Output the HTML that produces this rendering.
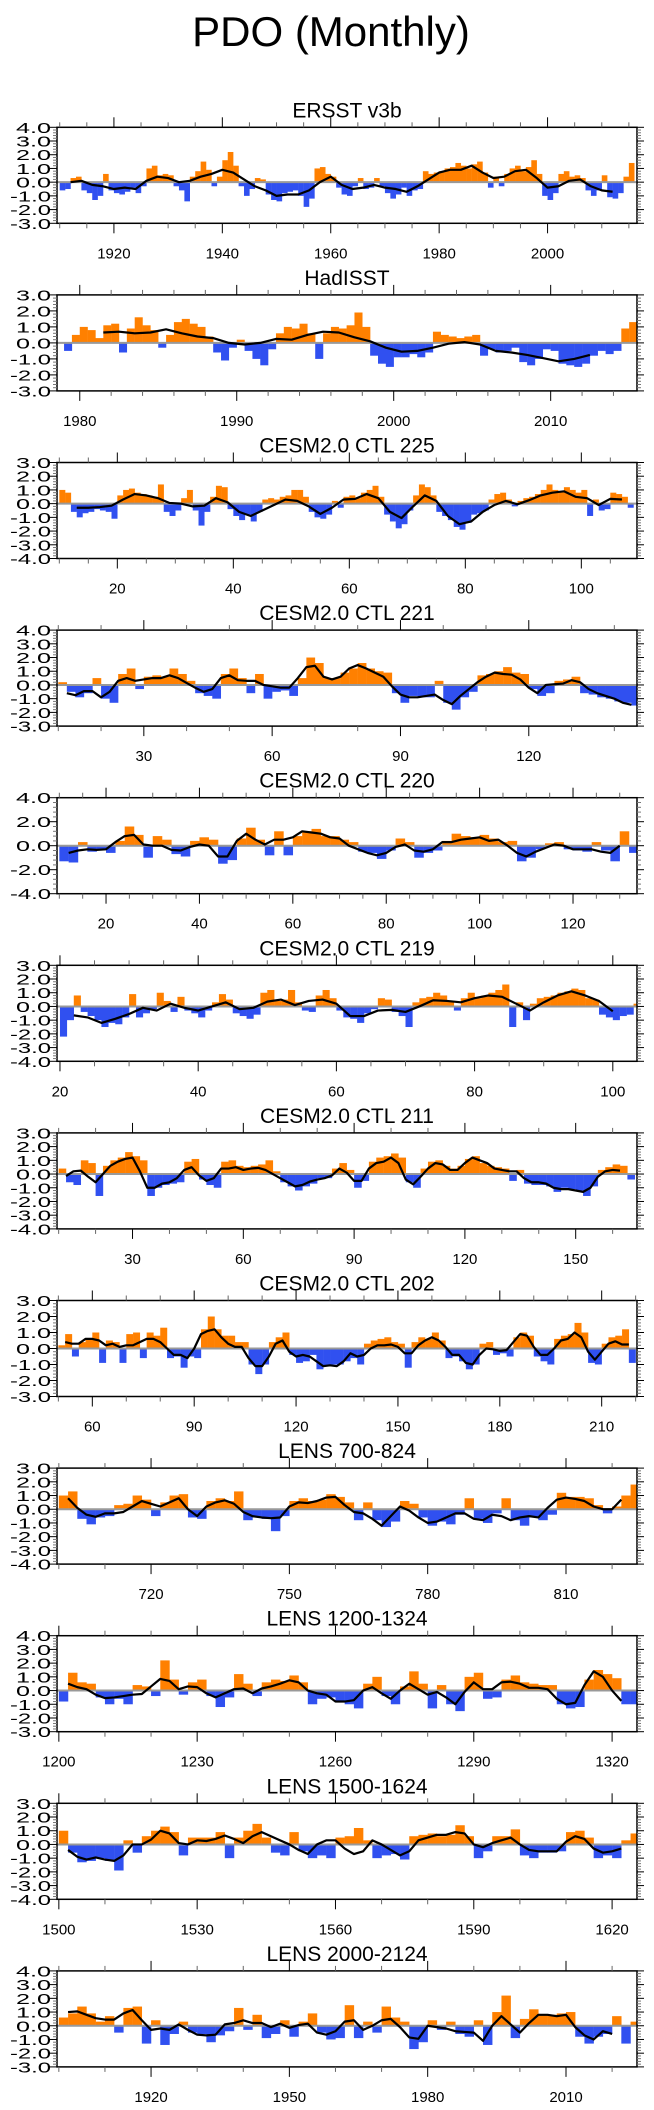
<!DOCTYPE html>
<html>
<head>
<meta charset="utf-8">
<style>
  html,body{margin:0;padding:0;background:#fff;}
  svg{display:block;}
  text{font-family:"Liberation Sans",Arial,sans-serif;fill:#000;}
</style>
</head>
<body>
<svg id="chart" xmlns="http://www.w3.org/2000/svg" width="654" height="2110" viewBox="0 0 654 2110">
  <rect x="0" y="0" width="654" height="2110" fill="#fff"/>
  <text x="331" y="46" font-size="42" text-anchor="middle">PDO (Monthly)</text>
</svg>
<script>
// ---------- data ----------
const ersstBars=[-0.6,-0.5,0.3,0.4,-0.6,-0.8,-1.3,-1.0,0.6,-0.6,-0.8,-0.9,-0.7,-0.4,-0.8,-0.3,1.0,1.2,0.5,0.6,0.5,-0.3,-0.6,-1.4,0.4,0.8,1.5,0.9,-0.3,0.4,1.6,2.2,1.2,-0.3,-1.0,-0.5,0.3,0.2,-0.9,-1.3,-1.4,-0.8,-0.7,-0.6,-1.0,-1.8,-1.2,1.0,1.1,0.6,0.4,-0.4,-0.9,-1.0,-0.3,0.3,-0.5,-0.4,0.3,-0.3,-0.8,-1.2,-0.9,-0.4,-1.0,-0.6,-0.5,0.8,0.6,0.7,0.8,1.0,1.1,1.4,1.2,1.0,1.3,1.5,0.7,-0.4,0.4,-0.3,0.6,1.0,1.2,0.8,1.1,1.6,0.6,-1.0,-1.3,-0.8,0.6,0.8,0.4,0.5,0.3,-0.6,-1.0,-0.6,0.5,-1.1,-1.2,-0.8,0.4,1.4];
const ersstSmooth=[0.0,0.1,-0.2,-0.3,-0.5,-0.4,-0.5,0.1,0.4,0.3,0.0,0.1,0.4,0.6,0.9,0.7,0.2,-0.3,-0.6,-1.0,-0.9,-0.9,-0.6,0.0,0.4,-0.2,-0.5,-0.4,-0.2,-0.4,-0.5,-0.7,-0.3,0.2,0.7,0.9,0.9,1.2,0.7,0.3,0.4,0.8,0.9,0.3,-0.4,-0.3,0.1,0.2,-0.3,-0.6,-0.7];
const hadBars=[-0.5,0.5,1.0,0.8,0.3,1.1,1.2,-0.6,0.9,1.6,1.1,0.8,-0.3,0.5,1.3,1.5,1.2,1.0,0.4,-0.6,-1.1,-0.3,0.2,-0.5,-1.0,-1.4,-0.4,0.6,1.0,0.9,1.2,0.6,-1.0,0.6,1.0,0.9,1.1,1.9,1.0,-0.8,-1.3,-1.5,-0.9,-0.9,-0.7,-0.9,-0.6,0.7,0.5,0.4,0.3,0.4,0.5,-0.8,-0.4,-0.6,-0.5,-0.3,-1.2,-1.4,-1.0,-0.4,-0.5,-1.3,-1.4,-1.5,-1.3,-0.8,-0.5,-0.7,-0.5,0.9,1.3];
const hadSmooth=[0.65,0.7,0.6,0.65,0.85,0.6,0.4,0.3,0.0,-0.1,0.0,0.25,0.2,0.5,0.7,0.65,0.35,0.1,-0.3,-0.55,-0.5,-0.3,-0.05,0.05,-0.1,-0.5,-0.6,-0.75,-0.95,-1.15,-1.0,-0.75];
const c225Bars=[1.0,0.8,-0.6,-1.0,-0.7,-0.6,-0.4,-0.5,-0.6,-1.1,0.6,1.0,1.1,0.8,0.7,0.6,0.5,1.4,-0.6,-0.9,-0.5,0.4,1.0,-0.5,-1.6,-0.6,0.5,1.3,1.2,-0.4,-0.9,-1.2,-0.8,-1.3,-0.6,0.3,0.4,0.3,0.5,0.6,1.0,1.0,0.5,-0.6,-1.0,-1.1,-0.8,0.2,-0.3,0.5,0.6,0.4,0.8,1.0,1.3,0.5,-0.8,-1.3,-1.8,-1.5,-0.5,0.6,1.4,1.2,0.6,-0.6,-0.9,-1.2,-1.7,-1.9,-1.4,-0.8,-0.7,-0.5,0.3,0.7,0.8,0.3,-0.2,0.2,0.4,0.5,0.7,1.0,1.4,1.0,0.9,1.2,1.0,0.8,1.0,-0.9,0.3,-0.5,-0.4,0.8,0.7,0.5,-0.3];
const c225Smooth=[-0.3,-0.3,-0.25,-0.15,0.3,0.7,0.6,0.4,0.05,0.0,-0.2,-0.15,0.4,0.1,-0.6,-0.9,-0.5,-0.1,0.3,0.2,-0.2,-0.75,-0.3,0.3,0.35,0.7,0.4,-0.6,-1.05,-0.2,0.6,0.2,-0.9,-1.5,-1.3,-0.6,-0.1,0.2,-0.05,0.25,0.6,0.8,0.9,0.5,0.4,-0.1,0.35,0.3];
const c221Bars=[0.2,-0.5,-0.9,-0.6,0.5,-1.0,-1.3,0.8,1.2,-0.3,0.6,0.7,0.6,1.2,0.8,0.3,-0.6,-0.8,-1.0,0.8,1.2,0.5,-0.6,0.8,-1.0,-0.5,-0.4,-0.8,0.5,2.0,1.6,0.5,0.5,0.9,1.2,1.6,1.2,1.0,0.9,-0.6,-1.3,-0.8,-0.9,-0.9,0.3,-1.3,-1.8,-0.9,-0.5,0.7,0.8,1.0,1.3,0.9,0.8,-0.3,-0.8,-0.6,0.3,0.4,0.6,-0.6,-0.7,-0.9,-1.0,-1.2,-1.3,-1.5];
const c221Smooth=[-0.6,-0.75,-0.45,-0.45,-0.9,-0.5,0.3,0.5,0.3,0.4,0.5,0.5,0.7,0.5,0.15,-0.2,-0.5,-0.3,0.5,0.7,0.35,0.3,0.3,0.0,-0.1,-0.2,-0.2,0.5,1.3,1.4,0.6,0.4,0.6,1.2,1.45,1.2,0.9,0.6,-0.1,-0.7,-0.9,-0.9,-0.8,-0.7,-1.1,-1.4,-0.8,-0.3,0.2,0.6,0.9,0.8,0.75,0.4,-0.2,-0.6,0.0,0.05,0.1,0.35,0.2,-0.3,-0.6,-0.8,-1.0,-1.3,-1.45];
const c220Bars=[-1.3,-1.4,0.3,-0.5,-0.3,-0.6,0.4,1.6,0.9,-1.0,0.8,0.5,-0.7,-0.9,0.4,0.7,0.5,-1.5,-1.2,0.6,1.5,0.5,-0.8,1.2,-0.8,0.8,1.2,1.4,0.8,0.8,0.5,0.3,-0.5,-0.6,-1.1,-0.4,0.6,0.3,-1.0,-0.6,-0.4,0.4,1.0,0.8,0.7,0.9,0.6,0.3,0.4,-1.3,-1.0,-0.3,0.2,0.3,-0.3,-0.4,-0.5,0.3,-0.4,-1.3,1.2,-0.6];
const c220Smooth=[-0.6,-0.4,-0.3,-0.35,-0.3,0.3,0.8,0.9,0.1,0.0,0.0,-0.35,-0.4,-0.1,0.1,0.0,-0.9,-0.9,0.4,1.0,0.5,0.1,0.5,0.5,0.7,1.2,1.1,1.0,0.7,0.6,0.0,-0.3,-0.6,-0.8,-0.6,-0.1,0.1,-0.4,-0.5,-0.3,0.3,0.3,0.5,0.6,0.7,0.4,0.5,0.0,-0.6,-0.9,-0.5,-0.2,0.1,0.0,-0.3,-0.3,-0.3,-0.5,-0.6,0.0];
const c219Bars=[-2.2,-1.0,0.8,-0.4,-0.7,-1.0,-1.5,-1.2,-1.3,-0.8,0.9,-0.8,-0.5,-0.2,1.0,0.4,-0.4,0.7,-0.3,-0.5,-0.8,-0.3,0.3,0.9,0.5,-0.5,-0.7,-0.9,-0.6,1.0,1.2,0.4,0.5,1.2,0.3,-0.3,-0.4,0.8,1.2,0.6,-0.3,-0.8,-0.9,-1.2,-0.5,-0.2,0.6,0.5,-0.4,-0.7,-1.5,0.3,0.6,0.7,1.0,0.8,0.4,-0.3,0.6,1.0,0.6,0.8,1.0,1.2,1.6,-1.5,0.3,-1.0,0.2,0.6,0.7,0.8,1.0,1.1,1.3,1.2,0.6,0.5,-0.6,-0.8,-1.0,-0.7,-0.6,0.2];
const c219Smooth=[-0.65,-0.8,-1.2,-0.9,-0.55,-0.1,-0.3,0.2,-0.1,-0.3,0.0,0.3,-0.2,-0.1,0.35,0.5,0.1,0.4,0.5,0.2,-0.7,-0.7,-0.3,-0.25,-0.4,0.0,0.45,0.4,0.3,0.6,0.8,0.7,0.2,-0.3,0.3,0.8,1.1,0.8,0.4,-0.35];
const c211Bars=[0.4,-0.6,-0.8,1.0,0.8,-1.6,0.6,1.0,1.2,1.6,1.3,1.0,-1.6,-1.0,-0.8,-0.7,-0.6,0.9,1.1,-0.4,-0.8,-1.0,0.9,1.0,0.6,0.5,0.6,0.7,1.0,0.2,-0.6,-0.9,-1.2,-0.9,-0.7,-0.3,-0.3,0.4,0.8,0.3,-1.0,-0.5,0.9,1.2,1.3,1.5,1.2,-0.6,-1.0,0.4,0.9,1.0,0.6,0.4,0.6,1.1,1.3,0.8,0.6,0.5,0.4,-0.5,0.3,-0.7,-0.8,-0.8,-0.9,-1.3,-1.0,-1.1,-1.2,-1.6,-0.9,0.3,0.5,0.7,0.6,-0.4];
const c211Smooth=[-0.15,0.2,0.25,-0.2,-0.6,0.0,0.6,0.9,1.1,1.2,0.2,-1.0,-1.0,-0.7,-0.6,-0.3,0.3,0.5,-0.1,-0.5,-0.3,0.4,0.4,0.5,0.3,0.4,0.45,0.3,0.0,-0.3,-0.6,-0.9,-0.8,-0.55,-0.4,-0.3,-0.1,0.4,0.1,-0.5,-0.5,0.4,0.8,0.9,1.2,0.8,-0.4,-0.75,-0.2,0.4,0.8,0.7,0.3,0.3,0.8,1.2,1.0,0.8,0.4,0.3,0.2,0.2,-0.3,-0.6,-0.6,-0.7,-1.0,-1.1,-1.1,-1.2,-1.3,-1.0,-0.2,0.2,0.3,0.25];
const c202Bars=[0.2,0.9,-0.5,0.4,0.6,1.0,-0.9,0.5,0.4,-0.9,0.9,1.0,-0.6,1.0,0.8,1.3,-0.6,-0.5,-1.2,-0.5,-0.6,1.2,2.0,1.2,0.8,0.8,0.4,0.4,-1.0,-1.6,-1.0,0.4,0.7,1.0,-0.4,-0.9,-0.8,-0.4,-1.3,-1.1,-1.0,-1.0,-0.8,-0.6,-1.0,0.3,0.5,0.6,0.7,0.4,0.3,-1.2,0.4,0.7,0.6,1.0,0.5,-0.6,-0.5,-0.8,-1.3,-1.0,0.3,0.4,-0.4,-0.3,-0.5,0.7,1.0,0.8,-0.5,-0.8,-1.0,0.6,0.8,0.9,1.6,1.0,-0.9,-1.0,0.3,0.7,0.8,1.2,-0.9];
const c202Smooth=[0.4,0.3,0.3,0.6,0.6,0.5,0.2,0.3,0.1,0.2,0.2,0.4,0.6,0.6,0.4,0.0,-0.4,-0.4,-0.6,0.0,0.9,1.1,1.2,0.7,0.3,0.1,0.1,-0.6,-1.1,-1.1,-0.5,0.3,0.5,-0.2,-0.5,-0.4,-0.5,-0.8,-1.1,-1.05,-1.1,-0.8,-0.3,-0.5,-0.4,0.0,0.2,0.2,0.25,0.1,-0.3,-0.3,0.2,0.5,0.7,0.5,0.1,-0.4,-0.4,-0.9,-1.0,-0.4,0.0,-0.05,-0.15,-0.1,0.4,0.9,0.8,0.1,-0.4,-0.4,0.0,0.5,0.6,1.0,0.7,-0.2,-0.7,-0.2,0.3,0.45,0.25,0.25];
const l700Bars=[1.0,1.3,-0.7,-1.1,-0.6,-0.5,0.3,0.4,1.0,0.7,-0.5,0.5,1.0,1.1,-0.6,-0.7,0.6,0.8,0.6,1.3,-0.8,-0.6,-0.7,-1.6,-0.5,0.6,0.8,0.6,0.7,1.1,0.9,0.5,-0.8,0.5,-0.8,-1.3,-0.9,0.6,0.4,-0.6,-1.2,-0.9,-1.1,-0.4,0.8,-0.7,-1.0,-0.3,0.8,-0.8,-1.2,-0.6,-0.8,-0.4,1.2,0.9,0.9,0.8,0.3,-0.3,0.2,1.0,1.8];
const l700Smooth=[0.8,0.1,-0.4,-0.55,-0.3,-0.3,-0.2,0.2,0.6,0.4,0.2,0.5,0.8,0.0,-0.5,0.2,0.5,0.65,0.4,-0.2,-0.5,-0.6,-0.65,-0.6,0.2,0.5,0.45,0.6,0.85,0.9,0.3,-0.2,-0.3,-0.7,-1.2,-0.5,0.2,-0.1,-0.6,-1.0,-0.9,-0.6,-0.3,-0.3,-0.7,-0.8,-0.4,-0.5,-0.8,-0.6,-0.5,-0.6,0.1,0.7,0.85,0.75,0.6,0.2,0.0,0.0,0.7];
const l1200Bars=[-0.8,1.3,0.6,0.5,-0.5,-1.0,-0.6,-1.0,0.4,0.3,-0.4,2.2,0.8,-0.3,0.6,0.8,-0.4,-1.2,-0.5,1.2,0.5,-0.4,0.6,0.8,0.7,1.1,0.6,-1.0,-0.6,-0.5,-0.8,-1.0,-1.3,0.5,1.0,-0.4,-1.0,0.3,1.4,0.5,-1.3,0.4,-1.0,-1.5,1.0,1.3,-0.6,-0.5,0.8,1.1,0.6,0.5,0.4,0.4,-1.0,-1.3,-1.2,0.8,1.5,1.2,0.9,-1.0,-1.0];
const l1200Smooth=[0.5,0.25,0.1,-0.3,-0.55,-0.5,-0.4,-0.3,-0.25,0.3,0.85,0.7,0.1,0.3,0.25,-0.2,-0.5,-0.2,0.1,0.15,-0.2,0.15,0.3,0.5,0.75,0.6,0.0,-0.2,-0.3,-0.8,-0.8,-0.7,0.0,0.25,-0.2,-0.6,0.0,0.5,0.1,-0.3,-0.1,-0.5,-1.0,-0.1,0.6,0.1,0.1,0.6,0.65,0.5,0.2,0.2,0.1,-0.6,-1.0,-0.9,0.4,1.4,1.0,0.0,-0.75];
const l1500Bars=[1.0,-0.6,-1.3,-1.2,-1.0,-1.2,-1.9,0.3,-0.6,0.6,1.0,1.3,0.9,-0.8,0.5,0.5,0.5,0.9,-1.0,0.5,1.0,1.5,0.5,-0.6,-0.8,0.9,-0.5,-1.0,-0.8,-1.0,0.5,0.6,1.2,0.3,-1.0,-0.8,-0.7,-1.1,0.6,0.7,0.8,0.6,0.7,1.4,0.6,-1.0,-0.5,0.6,0.6,1.1,-0.8,-1.0,-0.6,-0.6,-0.5,0.9,1.0,0.5,-1.0,-0.8,-1.0,0.3,0.8];
const l1500Smooth=[-0.4,-0.9,-1.1,-0.95,-1.1,-1.2,-0.8,0.0,0.0,0.35,1.0,0.8,0.1,0.0,0.3,0.25,0.4,0.65,0.4,0.1,0.6,0.9,0.6,0.3,0.0,-0.4,-0.7,0.0,0.3,0.3,-0.3,-0.7,-0.5,0.3,0.0,-0.4,-0.8,-0.5,0.3,0.5,0.7,0.7,0.9,0.8,0.0,-0.2,0.1,0.3,0.5,0.0,-0.4,-0.5,-0.5,-0.5,0.2,0.6,0.4,-0.3,-0.6,-0.5,-0.3];
const l2000Bars=[0.6,0.9,1.4,0.9,0.3,0.7,-0.5,1.3,1.4,-1.3,0.4,-1.4,-0.6,0.3,-0.5,-0.6,-1.2,-0.7,-0.4,1.3,-0.3,0.8,-0.9,-0.6,0.4,-0.8,0.3,0.9,-0.5,-1.0,-0.9,1.5,-0.9,0.3,-0.5,1.4,0.6,0.3,-1.7,-1.2,0.4,-0.3,0.3,-0.6,-0.8,0.4,-1.4,1.0,2.2,-0.9,0.5,1.2,0.8,0.8,0.9,1.0,-0.8,-1.3,-0.8,-0.6,0.7,-1.3,0.3];
const l2000Smooth=[1.0,1.05,0.8,0.55,0.45,0.45,0.9,1.15,0.4,-0.3,-0.2,-0.3,0.1,-0.3,-0.65,-0.7,-0.65,0.1,0.2,0.4,0.2,0.2,-0.1,0.15,-0.15,0.05,0.15,-0.5,-0.65,-0.4,0.3,0.4,-0.3,0.0,0.4,0.5,-0.1,-0.85,-0.95,0.0,-0.1,-0.2,-0.4,-0.45,-0.5,-1.1,0.0,0.7,0.1,-0.5,0.2,0.8,0.8,0.7,0.8,-0.1,-0.7,-1.0,-0.4,-0.6];

// tick label arrays
const ersstXLabels=[1920,1940,1960,1980,2000];
const hadXLabels=[1980,1990,2000,2010];
const c225XLabels=[20,40,60,80,100];
const c221XLabels=[30,60,90,120];
const c220XLabels=[20,40,60,80,100,120];
const c219XLabels=[20,40,60,80,100];
const c211XLabels=[30,60,90,120,150];
const c202XLabels=[60,90,120,150,180,210];
const l700XLabels=[720,750,780,810];
const l1200XLabels=[1200,1230,1260,1290,1320];
const l1500XLabels=[1500,1530,1560,1590,1620];
const l2000XLabels=[1920,1950,1980,2010];
const yLabels43=["4.0","3.0","2.0","1.0","0.0","-1.0","-2.0","-3.0"];
const yLabels33=["3.0","2.0","1.0","0.0","-1.0","-2.0","-3.0"];
const yLabels34=["3.0","2.0","1.0","0.0","-1.0","-2.0","-3.0","-4.0"];
const yLabels44=["4.0","2.0","0.0","-2.0","-4.0"];

const panels=[
 {name:"ersst",title:"ERSST v3b",xmin:1909.5,xmax:2016.5,ymin:-3,ymax:4,yl:yLabels43,xl:ersstXLabels,mStart:1910,mStep:5,bars:ersstBars,bStart:1910,bStep:1,sm:ersstSmooth,sStart:1912,sStep:2},
 {name:"hadisst",title:"HadISST",xmin:1978.55,xmax:2015.5,ymin:-3,ymax:3,yl:yLabels33,xl:hadXLabels,mStart:1980,mStep:2,bars:hadBars,bStart:1979,bStep:0.5,sm:hadSmooth,sStart:1981.5,sStep:1},
 {name:"cesm-225",title:"CESM2.0 CTL 225",xmin:9.6,xmax:109.6,ymin:-4,ymax:3,yl:yLabels34,xl:c225XLabels,mStart:10,mStep:5,bars:c225Bars,bStart:10,bStep:1,sm:c225Smooth,sStart:13,sStep:2},
 {name:"cesm-221",title:"CESM2.0 CTL 221",xmin:9.7,xmax:145.3,ymin:-3,ymax:4,yl:yLabels43,xl:c221XLabels,mStart:10,mStep:10,bars:c221Bars,bStart:10,bStep:2,sm:c221Smooth,sStart:12,sStep:2},
 {name:"cesm-220",title:"CESM2.0 CTL 220",xmin:9.5,xmax:133.7,ymin:-4,ymax:4,yl:yLabels44,xl:c220XLabels,mStart:10,mStep:5,bars:c220Bars,bStart:10,bStep:2,sm:c220Smooth,sStart:12,sStep:2},
 {name:"cesm-219",title:"CESM2.0 CTL 219",xmin:19.57,xmax:103.5,ymin:-4,ymax:3,yl:yLabels34,xl:c219XLabels,mStart:20,mStep:5,bars:c219Bars,bStart:20,bStep:1,sm:c219Smooth,sStart:22,sStep:2},
 {name:"cesm-211",title:"CESM2.0 CTL 211",xmin:9.55,xmax:166.6,ymin:-4,ymax:3,yl:yLabels34,xl:c211XLabels,mStart:10,mStep:10,bars:c211Bars,bStart:10,bStep:2,sm:c211Smooth,sStart:12,sStep:2},
 {name:"cesm-202",title:"CESM2.0 CTL 202",xmin:49.6,xmax:220.4,ymin:-3,ymax:3,yl:yLabels33,xl:c202XLabels,mStart:50,mStep:10,bars:c202Bars,bStart:50,bStep:2,sm:c202Smooth,sStart:52,sStep:2},
 {name:"lens-700",title:"LENS 700-824",xmin:699.6,xmax:825.4,ymin:-4,ymax:3,yl:yLabels34,xl:l700XLabels,mStart:700,mStep:10,bars:l700Bars,bStart:700,bStep:2,sm:l700Smooth,sStart:702,sStep:2},
 {name:"lens-1200",title:"LENS 1200-1324",xmin:1199.6,xmax:1325.4,ymin:-3,ymax:4,yl:yLabels43,xl:l1200XLabels,mStart:1200,mStep:10,bars:l1200Bars,bStart:1200,bStep:2,sm:l1200Smooth,sStart:1202,sStep:2},
 {name:"lens-1500",title:"LENS 1500-1624",xmin:1499.6,xmax:1625.4,ymin:-4,ymax:3,yl:yLabels34,xl:l1500XLabels,mStart:1500,mStep:10,bars:l1500Bars,bStart:1500,bStep:2,sm:l1500Smooth,sStart:1502,sStep:2},
 {name:"lens-2000",title:"LENS 2000-2124",xmin:1899.6,xmax:2025.4,ymin:-3,ymax:4,yl:yLabels43,xl:l2000XLabels,mStart:1900,mStep:10,bars:l2000Bars,bStart:1900,bStep:2,sm:l2000Smooth,sStart:1902,sStep:2}
];

// ---------- drawing ----------
const NS="http://www.w3.org/2000/svg";
const svg=document.getElementById("chart");
const LEFT=57, RIGHT=637, TOP0=127.3, GAP=167.6, H=96;
function mk(tag,attrs,parent){
  const e=document.createElementNS(NS,tag);
  for(const k in attrs) e.setAttribute(k,attrs[k]);
  parent.appendChild(e);
  return e;
}

panels.forEach((p,i)=>{
  const top=TOP0+i*GAP, bot=top+H;
  const sx=v=>LEFT+(v-p.xmin)/(p.xmax-p.xmin)*(RIGHT-LEFT);
  const sy=v=>top+(p.ymax-v)/(p.ymax-p.ymin)*H;
  const g=mk("g",{},svg);
  
  

  const t=mk("text",{x:347,y:top-10,"font-size":21,"text-anchor":"middle"},g);
  t.textContent=p.title;
  
  

  const cid="clip"+i;
  const cp=mk("clipPath",{id:cid},g);
  mk("rect",{x:LEFT,y:top,width:RIGHT-LEFT,height:H},cp);

  const bg=mk("g",{"clip-path":"url(#"+cid+")"},g);
  
  
  const y0=sy(0);
  p.bars.forEach((v,k)=>{
    const a=p.bStart+k*p.bStep, b=a+p.bStep;
    const x1=sx(a), x2=sx(b), yv=sy(v);
    const r=mk("rect",{x:x1.toFixed(2),y:Math.min(yv,y0).toFixed(2),width:(x2-x1+0.2).toFixed(2),height:Math.abs(yv-y0).toFixed(2),fill:v>=0?"#ff8000":"#3050f0"},bg);
    
    
  });

  const zl=mk("line",{x1:LEFT,x2:RIGHT,y1:y0,y2:y0,stroke:"#999","stroke-width":2},g);
  
  

  const pts=p.sm.map((v,k)=>sx(p.sStart+k*p.sStep).toFixed(2)+","+sy(v).toFixed(2)).join(" ");
  const pl=mk("polyline",{points:pts,fill:"none",stroke:"#000","stroke-width":2.2,"stroke-linejoin":"round"},g);
  
  

  const box=mk("rect",{x:LEFT,y:top,width:RIGHT-LEFT,height:H,fill:"none",stroke:"#000","stroke-width":1.5},g);
  
  

  // x ticks
  const tg=mk("g",{stroke:"#000","stroke-width":1},g);
  
  
  for(let v=p.mStart; v<=p.xmax+1e-6; v+=p.mStep){
    const major=p.xl.indexOf(Math.round(v*100)/100)>=0;
    const L=major?10:5, x=sx(v).toFixed(2);
    mk("line",{x1:x,x2:x,y1:top,y2:top-L,stroke:major?"#000":"#666"},tg);
    mk("line",{x1:x,x2:x,y1:bot,y2:bot+L,stroke:major?"#000":"#666"},tg);
  }
  p.xl.forEach(v=>{
    const lt=mk("text",{x:sx(v).toFixed(2),y:bot+35,"font-size":15,"text-anchor":"middle"},g);
    lt.textContent=String(v);
    
    
  });

  // y ticks
  const yg=mk("g",{"stroke-width":1},g);
  
  
  const yStep=(p.ymax-p.ymin)/(p.yl.length-1);
  const minorStep=yStep/5;
  for(let v=p.ymin; v<=p.ymax+1e-6; v+=minorStep){
    const major=Math.abs((v-p.ymin)/yStep-Math.round((v-p.ymin)/yStep))<1e-6;
    const L=major?7:4, y=sy(v).toFixed(2), c=major?"#000":"#777";
    mk("line",{x1:LEFT,x2:LEFT-L,y1:y,y2:y,stroke:c},yg);
    mk("line",{x1:RIGHT,x2:RIGHT+L,y1:y,y2:y,stroke:c},yg);
  }
  p.yl.forEach(s=>{
    const v=parseFloat(s);
    const yt=mk("text",{x:51,y:(sy(v)+5.5).toFixed(2),"font-size":15,"text-anchor":"end",textLength:s.length>3?41:35,lengthAdjust:"spacingAndGlyphs"},g);
    yt.textContent=s;
    
    
  });
});
</script>
</body>
</html>
